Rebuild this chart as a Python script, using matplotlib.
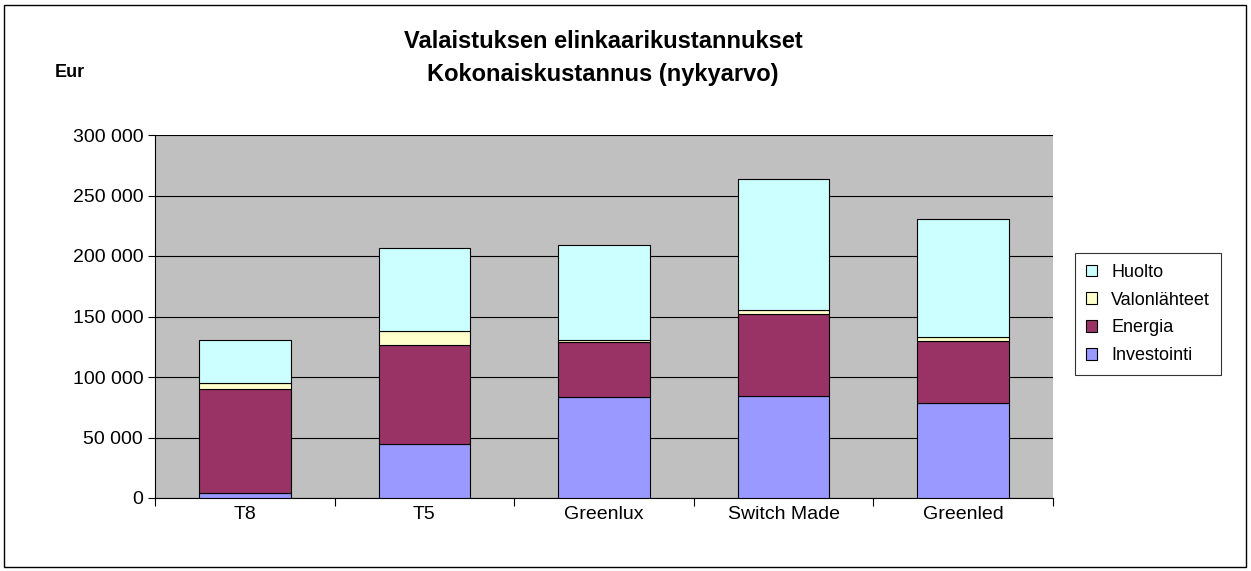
import numpy as np
import matplotlib.pyplot as plt
from matplotlib.patches import Rectangle

categories = ['T8', 'T5', 'Greenlux', 'Switch Made', 'Greenled']
investointi = [4100, 44600, 83500, 84300, 78500]
energia = [85900, 81800, 45500, 67700, 51200]
valonlahteet = [5000, 11600, 1600, 3400, 3300]
huolto = [35600, 68600, 78400, 108200, 97600]

series = [('Investointi', investointi, '#9999FF'),
          ('Energia', energia, '#993366'),
          ('Valonlähteet', valonlahteet, '#FFFFCC'),
          ('Huolto', huolto, '#CCFFFF')]

W, H = 1251, 571
fig = plt.figure(figsize=(W / 100, H / 100), dpi=100)
fig.patches.append(Rectangle((4 / W, 4 / H), 1 - 9 / W, 1 - 9 / H, transform=fig.transFigure,
                             fill=False, edgecolor='black', linewidth=1))
ax = fig.add_axes([155 / W, 1 - 498 / H, (1053 - 155) / W, (498 - 135) / H])
ax.set_facecolor('#C0C0C0')

x = np.arange(len(categories))
bottom = np.zeros(len(categories))
handles = []
for name, vals, col in series:
    b = ax.bar(x, vals, 0.51, bottom=bottom, color=col, edgecolor='black', linewidth=0.8,
               label=name, zorder=3)
    handles.append(b)
    bottom += np.array(vals)

ax.set_xlim(-0.5, len(categories) - 0.5)
ax.set_ylim(0, 300000)
yt = np.arange(0, 300001, 50000)
ax.set_yticks(yt)
ax.set_yticklabels([f'{v:,}'.replace(',', ' ') for v in yt], fontsize=14, family='Liberation Sans')
ax.set_xticks(np.arange(-0.5, len(categories), 1))
ax.set_xticklabels([])
ax.set_xticks(x, minor=True)
ax.set_xticklabels(categories, minor=True, fontsize=14, family='Liberation Sans')
ax.tick_params(axis='x', which='minor', length=0, pad=6)
ax.tick_params(axis='x', which='major', length=6)
ax.tick_params(axis='y', length=5)
ax.grid(axis='y', color='black', linewidth=0.8, zorder=0)
for s in ['top', 'right']:
    ax.spines[s].set_visible(False)

fig.text(603 / W, 1 - 42 / H, 'Valaistuksen elinkaarikustannukset', ha='center', va='center',
         fontsize=17, fontweight='bold', family='Liberation Sans')
fig.text(603 / W, 1 - 75 / H, 'Kokonaiskustannus (nykyarvo)', ha='center', va='center',
         fontsize=17, fontweight='bold', family='Liberation Sans')
fig.text(70 / W, 1 - 72 / H, 'Eur', ha='center', va='center', fontsize=13,
         fontweight='bold', family='Liberation Sans')

leg = fig.legend(handles[::-1], [s[0] for s in series][::-1], loc='center',
                 bbox_to_anchor=(1148 / W, 1 - 314 / H), frameon=True, fancybox=False,
                 edgecolor='black', prop={'family': 'Liberation Sans', 'size': 13},
                 handlelength=0.6, handleheight=0.6, labelspacing=0.6, borderpad=0.6)
leg.get_frame().set_linewidth(0.8)

fig.savefig('out.png', dpi=100)
